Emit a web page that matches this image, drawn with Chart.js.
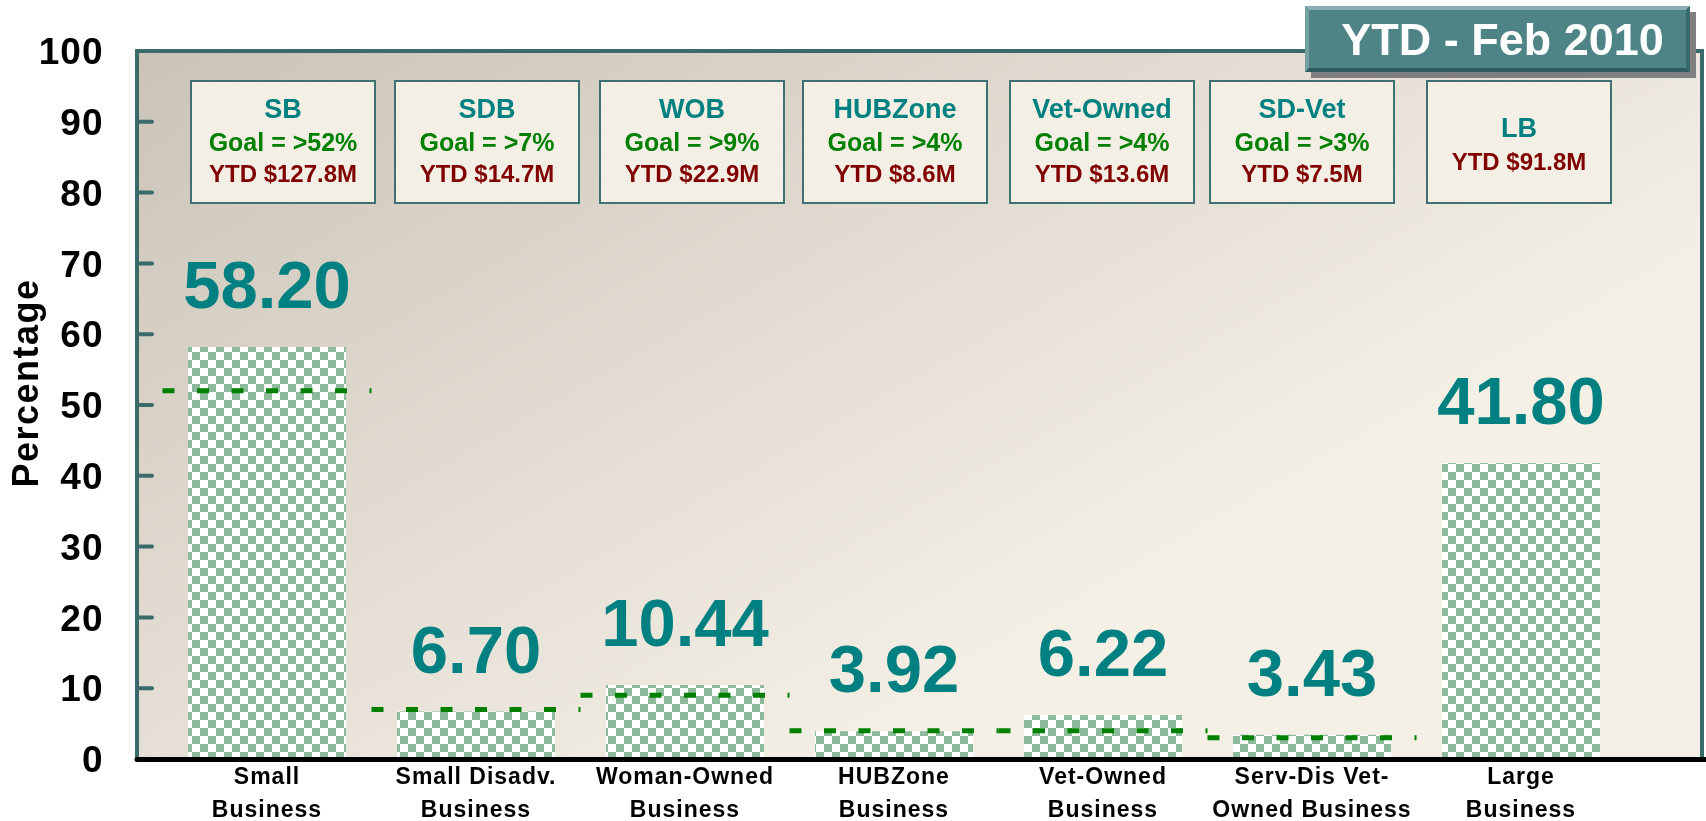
<!DOCTYPE html>
<html><head><meta charset="utf-8">
<script src="https://cdn.jsdelivr.net/npm/chart.js@4.4.1/dist/chart.umd.min.js"></script>
<style>html,body{margin:0;padding:0;background:#fff;overflow:hidden}canvas{display:block}</style>
</head><body>
<canvas id="c" width="1706" height="821"></canvas>
<script>
// ---------- data ----------
const categories = [['Small','Business'],['Small Disadv.','Business'],['Woman-Owned','Business'],['HUBZone','Business'],['Vet-Owned','Business'],['Serv-Dis Vet-','Owned Business'],['Large','Business']];
const percentages = [58.20, 6.70, 10.44, 3.92, 6.22, 3.43, 41.80];
const goals = [52, 7, 9, 4, 4, 3, null];
const boxTitles = ['SB','SDB','WOB','HUBZone','Vet-Owned','SD-Vet','LB'];
const ytdMillions = [127.8, 14.7, 22.9, 8.6, 13.6, 7.5, 91.8];
const yTickValues = [0,10,20,30,40,50,60,70,80,90,100];
const periodLabel = 'YTD - Feb 2010';
const yAxisTitle = 'Percentage';

// ---------- layout / style ----------
const FONT = '"Liberation Sans", Arial, Helvetica, sans-serif';
const boxOffsets = [16, 11, 7, 1, -1, -10, -2];
const frame = {left:137, top:51, right:1702, bottom:759.5};

function checker(){
  const c=document.createElement('canvas');c.width=16;c.height=16;
  const x=c.getContext('2d');
  x.fillStyle='#ffffff';x.fillRect(0,0,16,16);
  x.fillStyle='#8cba9b';x.fillRect(0,0,8,8);x.fillRect(8,8,8,8);
  return x.createPattern(c,'repeat');
}
function dotted(){
  const c=document.createElement('canvas');c.width=12;c.height=12;
  const x=c.getContext('2d');
  x.fillStyle='#f4efe4';x.fillRect(0,0,12,12);
  x.fillStyle='#fbf9f4';x.fillRect(0,0,1,1);x.fillRect(6,6,1,1);
  return x.createPattern(c,'repeat');
}
const ctx=document.getElementById('c').getContext('2d');
const barPattern=checker();
const boxPattern=dotted();

function poly(c,pts,fill){c.beginPath();c.moveTo(pts[0][0],pts[0][1]);for(let i=1;i<pts.length;i++)c.lineTo(pts[i][0],pts[i][1]);c.closePath();c.fillStyle=fill;c.fill();}

const decor = {
  id:'decor',
  beforeDraw(chart){
    const c=chart.ctx;
    c.save();
    const g=c.createLinearGradient(frame.left,frame.top,620,900);
    g.addColorStop(0,'#cac3b8');
    g.addColorStop(1,'#f5f0e6');
    c.fillStyle=g;
    c.fillRect(frame.left,frame.top,frame.right-frame.left,frame.bottom-frame.top);
    c.restore();
    c.letterSpacing='1px';
  },
  afterDatasetsDraw(chart){
    const c=chart.ctx, xs=chart.scales.x, ys=chart.scales.y;
    const catW = xs.getPixelForValue(1)-xs.getPixelForValue(0);
    c.save();
    c.letterSpacing='0px';
    // goal lines
    c.strokeStyle='#008000';c.lineWidth=5;c.lineCap='butt';c.setLineDash([12,22.5]);
    goals.forEach((gv,i)=>{
      if(gv==null) return;
      const xc=xs.getPixelForValue(i), y=ys.getPixelForValue(gv);
      c.beginPath();c.moveTo(xc-catW/2,y);c.lineTo(xc+catW/2,y);c.stroke();
    });
    c.setLineDash([]);
    // frame
    c.strokeStyle='#3b6a6b';c.lineWidth=4;c.lineCap='butt';
    c.beginPath();c.moveTo(frame.left,frame.bottom);c.lineTo(frame.left,frame.top);c.lineTo(frame.right,frame.top);c.lineTo(frame.right,frame.bottom);c.stroke();
    c.lineCap='round';
    yTickValues.forEach(v=>{
      if(v===0||v===100) return;
      const y=ys.getPixelForValue(v);
      c.beginPath();c.moveTo(frame.left+2,y);c.lineTo(frame.left+15,y);c.stroke();
    });
    c.strokeStyle='#000';c.lineWidth=5;c.lineCap='round';
    c.beginPath();c.moveTo(frame.left,frame.bottom);c.lineTo(1706,frame.bottom);c.stroke();
    // value labels
    const meta=chart.getDatasetMeta(0);
    c.fillStyle='#008080';c.font='bold 67px '+FONT;c.textAlign='center';c.textBaseline='alphabetic';
    meta.data.forEach((b,i)=>{
      c.fillText(percentages[i].toFixed(2), b.x, b.y-39);
    });
    // annotation boxes
    const bw=184, bh=122, bt=81;
    boxTitles.forEach((t,i)=>{
      const cx=xs.getPixelForValue(i)+boxOffsets[i];
      const l=cx-bw/2;
      c.fillStyle=boxPattern;c.fillRect(l,bt,bw,bh);
      c.strokeStyle='#3f7174';c.lineWidth=2;c.strokeRect(l,bt,bw,bh);
      c.textAlign='center';c.textBaseline='alphabetic';
      if(goals[i]!=null){
        c.fillStyle='#008080';c.font='bold 27px '+FONT;c.fillText(t,cx,bt+37);
        c.fillStyle='#008000';c.font='bold 25px '+FONT;c.fillText('Goal = >'+goals[i]+'%',cx,bt+70);
        c.fillStyle='#800000';c.font='bold 24px '+FONT;c.fillText('YTD $'+ytdMillions[i].toFixed(1)+'M',cx,bt+101);
      } else {
        c.fillStyle='#008080';c.font='bold 27px '+FONT;c.fillText(t,cx,bt+56);
        c.fillStyle='#800000';c.font='bold 24px '+FONT;c.fillText('YTD $'+ytdMillions[i].toFixed(1)+'M',cx,bt+89);
      }
    });
    c.restore();
  },
  afterDraw(chart){
    const c=chart.ctx;
    c.save();
    // y axis title
    c.letterSpacing='1.5px';
    c.translate(28,383);c.rotate(-Math.PI/2);
    c.fillStyle='#000';c.font='bold 36px '+FONT;c.textAlign='center';c.textBaseline='middle';
    c.fillText(yAxisTitle,0,0);
    c.restore();
    // period title box
    c.save();
    c.letterSpacing='0px';
    const x=1305,y=6,w=385,h=66,b=4;
    c.fillStyle='#7f7f7f';c.fillRect(x+6,y+6,w,h);
    c.fillStyle='#4f8487';c.fillRect(x,y,w,h);
    poly(c,[[x,y],[x+w,y],[x+w-b,y+b],[x+b,y+b]],'#89afb1');
    poly(c,[[x,y],[x+b,y+b],[x+b,y+h-b],[x,y+h]],'#75a0a3');
    poly(c,[[x,y+h],[x+b,y+h-b],[x+w-b,y+h-b],[x+w,y+h]],'#2f5c5f');
    poly(c,[[x+w,y],[x+w,y+h],[x+w-b,y+h-b],[x+w-b,y+b]],'#386a6d');
    c.fillStyle='#ffffff';c.font='bold 45px '+FONT;c.textAlign='center';c.textBaseline='alphabetic';
    c.fillText(periodLabel,x+w/2+5,55);
    c.restore();
  }
};

new Chart(ctx,{
  type:'bar',
  data:{labels:categories,datasets:[{data:percentages,backgroundColor:barPattern,borderWidth:0,categoryPercentage:1,barPercentage:0.756}]},
  options:{
    responsive:false,animation:false,devicePixelRatio:1,
    layout:{padding:{left:0,top:51,right:80.5,bottom:0}},
    plugins:{legend:{display:false},tooltip:{enabled:false}},
    scales:{
      x:{grid:{display:false,drawTicks:false},border:{display:false},
         ticks:{color:'#000',font:{family:FONT,weight:'bold',size:23,lineHeight:1.4},padding:3,maxRotation:0,minRotation:0,autoSkip:false},
         afterFit(s){s.height=62;}},
      y:{min:0,max:100,
         grid:{display:true,drawOnChartArea:false,drawTicks:true,tickLength:59,color:'rgba(0,0,0,0)'},
         border:{display:false},
         afterBuildTicks(s){s.ticks=yTickValues.map(v=>({value:v}));},
         ticks:{color:'#000',font:{family:FONT,weight:'bold',size:37},padding:0,labelOffset:3},
         afterFit(s){s.width=162.5;}}
    }
  },
  plugins:[decor]
});
</script>
</body></html>
